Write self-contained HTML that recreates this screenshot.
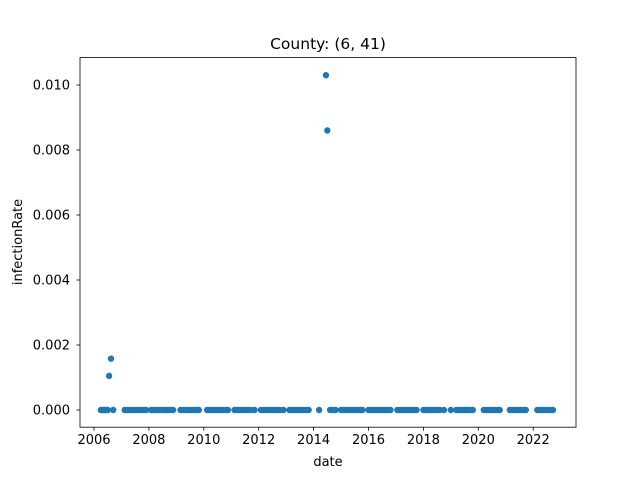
<!DOCTYPE html>
<html><head><meta charset="utf-8"><style>
body{margin:0;background:#fff}
svg text{font-family:"DejaVu Sans","Liberation Sans",sans-serif;fill:#000}
</style></head><body>
<svg id="chart" width="640" height="480" viewBox="0 0 640 480" xmlns="http://www.w3.org/2000/svg">
<rect width="640" height="480" fill="#fff"/>
<text x="328" y="49" font-size="15.5" text-anchor="middle">County: (6, 41)</text>
<g id="marks"></g>
<g id="axes"></g>
<rect x="80" y="57.6" width="496" height="369.6" fill="none" stroke="#000" stroke-width="0.8"/>
<text x="328" y="466" font-size="13" text-anchor="middle">date</text>
<text transform="translate(22,242) rotate(-90)" font-size="13" text-anchor="middle">infectionRate</text>
</svg>
<script>
const xTicks=[2006,2008,2010,2012,2014,2016,2018,2020,2022];
const yTicks=[0,0.002,0.004,0.006,0.008,0.010];
const yTickLabels=["0.000","0.002","0.004","0.006","0.008","0.010"];
const dates=[2006.25,2006.3,2006.35,2006.4,2006.45,2006.5,2006.55,2006.62,2006.7,
2007.12,2007.22,2007.32,2007.42,2007.52,2007.62,2007.72,2007.82,2007.9,
2008.08,2008.18,2008.28,2008.38,2008.48,2008.58,2008.68,2008.78,2008.88,
2009.15,2009.25,2009.35,2009.45,2009.55,2009.65,2009.75,2009.82,
2010.12,2010.22,2010.32,2010.42,2010.52,2010.62,2010.72,2010.82,2010.88,
2011.12,2011.22,2011.32,2011.42,2011.52,2011.62,2011.72,2011.85,
2012.08,2012.18,2012.28,2012.38,2012.48,2012.58,2012.68,2012.78,2012.9,
2013.12,2013.22,2013.32,2013.42,2013.52,2013.62,2013.72,2013.82,
2014.2,2014.45,2014.5,2014.6,2014.7,2014.8,
2015.0,2015.1,2015.2,2015.3,2015.4,2015.5,2015.6,2015.7,2015.78,
2016.0,2016.1,2016.2,2016.3,2016.4,2016.5,2016.6,2016.7,2016.8,
2017.05,2017.15,2017.25,2017.35,2017.45,2017.55,2017.65,2017.75,
2018.0,2018.1,2018.2,2018.3,2018.4,2018.5,2018.6,2018.75,2019.0,
2019.2,2019.3,2019.4,2019.5,2019.6,2019.7,2019.8,
2020.2,2020.3,2020.4,2020.5,2020.6,2020.7,2020.78,
2021.15,2021.25,2021.35,2021.45,2021.55,2021.65,2021.73,
2022.15,2022.25,2022.35,2022.45,2022.55,2022.65,2022.72];
const rates=dates.map(()=>0);
rates[6]=0.00105; rates[7]=0.00158; rates[70]=0.0103; rates[71]=0.0086;
const X=v=>94+(v-2006)*27.45;
const Y=v=>410-v*32500;
const ns="http://www.w3.org/2000/svg";
const marks=document.getElementById('marks');
dates.forEach((d,i)=>{
 const c=document.createElementNS(ns,'circle');
 c.setAttribute('cx',X(d));c.setAttribute('cy',Y(rates[i]));c.setAttribute('r',3.2);c.setAttribute('fill','#1f77b4');
 
 
 marks.appendChild(c);
});
const axes=document.getElementById('axes');
xTicks.forEach(t=>{
 const l=document.createElementNS(ns,'line');
 l.setAttribute('x1',X(t));l.setAttribute('x2',X(t));l.setAttribute('y1',427.2);l.setAttribute('y2',430.7);l.setAttribute('stroke','#000');l.setAttribute('stroke-width','0.8');
 
 
 axes.appendChild(l);
 const tx=document.createElementNS(ns,'text');
 tx.setAttribute('x',X(t));tx.setAttribute('y',444);tx.setAttribute('font-size','13');tx.setAttribute('text-anchor','middle');tx.textContent=t;
 
 
 axes.appendChild(tx);
});
yTicks.forEach((t,i)=>{
 const l=document.createElementNS(ns,'line');
 l.setAttribute('x1',76.5);l.setAttribute('x2',80);l.setAttribute('y1',Y(t));l.setAttribute('y2',Y(t));l.setAttribute('stroke','#000');l.setAttribute('stroke-width','0.8');
 
 
 axes.appendChild(l);
 const tx=document.createElementNS(ns,'text');
 tx.setAttribute('x',70);tx.setAttribute('y',Y(t)+4.5);tx.setAttribute('font-size','13');tx.setAttribute('text-anchor','end');tx.textContent=yTickLabels[i];
 
 
 axes.appendChild(tx);
});
</script>
</body></html>
